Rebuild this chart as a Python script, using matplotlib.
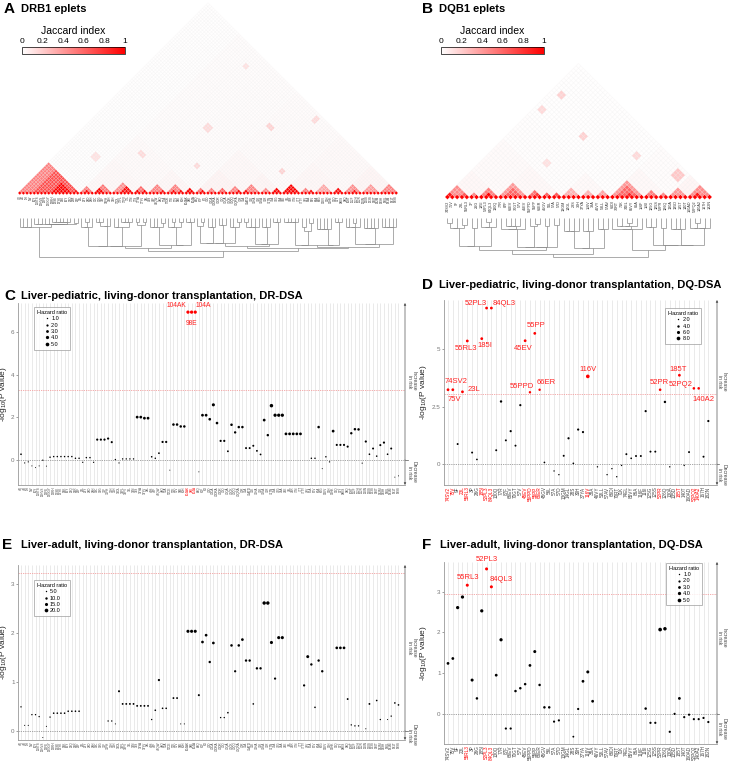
import numpy as np
import matplotlib
matplotlib.use("Agg")
import matplotlib.pyplot as plt
from matplotlib.colors import LinearSegmentedColormap
from matplotlib.collections import LineCollection, PolyCollection
from matplotlib.lines import Line2D

plt.rcParams["font.family"] = ["Liberation Sans", "DejaVu Sans"]
plt.rcParams["mathtext.fontset"] = "custom"
plt.rcParams["mathtext.rm"] = "Liberation Sans"
nan = np.nan

# ---------------- data ----------------
DRB1_EPLETS = [
    "4Q", "4R", "9H", "9W", "10Y", "11STS", "12HVS", "13FE", "13GGY", "13RH",
    "13SE", "13YK", "14K", "16Y", "25Q", "25R", "26F", "26L", "26Y", "28D",
    "28H", "30C", "30G", "31F", "31FH", "32H", "33H", "37DL", "37FL", "37FV",
    "37L", "37N", "37S", "37YA", "37YV", "38L", "40S", "47F", "47QW", "48Q",
    "57A", "57DE", "57E", "57V", "58E", "60H", "104AK", "98E", "104A", "64Q",
    "67F", "67I", "70D", "70DA", "70DRA", "70DR", "70Q", "70QA", "70QK", "70QQ",
    "70QRA", "70R", "71A", "71ATD", "71E", "71HA", "71K", "71KA", "71R", "71TN",
    "73A", "73G", "74A", "74E", "74L", "74R", "77N", "77T", "77TY", "78V",
    "85A", "85V", "86A", "86G", "96EV", "96H", "96HK", "96Q", "96Y", "98ES",
    "98Q", "108T", "112F", "112H", "112R", "120N", "120S", "133S", "140T", "142M",
    "149H", "180L", "181M", "181T", "189S",
]
DQB1_EPLETS = [
    "74SV2", "75V", "9F", "23L", "55RL3", "3P", "26G", "185I", "52PL3", "84QL3",
    "130Q", "77R", "87F", "66EV", "70GT", "57V", "45EV", "55PPD", "55PP", "66ER",
    "45GV", "56L", "57A", "57D", "13GM", "14GL", "28S", "30H", "37YA", "116V",
    "38A", "46VY", "53LL", "57AV", "66DI", "70RT", "71K", "74EL", "85VY", "86A",
    "116F", "116I", "125G", "125S", "52PR", "126Q", "130A", "135D", "185T", "140T",
    "160AD", "52PQ2", "140A2", "167H", "182N",
]

# -log10(P) and hazard ratios, liver pediatric / adult
DR_PED_LOGP = [
    0.25, -0.16, -0.11, -0.30, -0.38, -0.30, -0.03, -0.31, 0.11, 0.14,
    0.14, 0.14, 0.14, 0.14, 0.14, 0.06, 0.06, -0.13, 0.09, 0.09,
    -0.13, 0.94, 0.94, 0.94, 0.99, 0.82, 0.00, -0.16, 0.03, 0.03,
    0.03, 0.03, 2.00, 2.00, 1.95, 1.95, 0.13, 0.06, 0.30, 0.83,
    0.83, -0.50, 1.65, 1.65, 1.56, 1.56, 6.95, 6.95, 6.95, -0.58,
    2.09, 2.09, 1.90, 2.58, 1.72, 0.88, 0.88, 0.39, 1.64, 1.28,
    1.53, 1.53, 0.54, 0.54, 0.65, 0.41, 0.24, 1.86, 1.15, 2.54,
    2.09, 2.09, 2.09, 1.21, 1.21, 1.21, 1.21, 1.21, nan, nan,
    0.06, 0.06, 1.53, -0.43, 0.13, -0.11, 1.34, 0.69, 0.69, 0.69,
    0.61, 1.24, 1.43, 1.42, -0.17, 0.85, 0.25, 0.52, 0.16, 0.68,
    0.80, 0.25, 0.52, -0.83, -0.77,
]
DR_PED_HR = [
    1.3, 0.8, 0.85, 0.7, 0.6, 0.7, 0.95, 0.7, 1.1, 1.1,
    1.1, 1.1, 1.1, 1.1, 1.1, 1.1, 1.1, 0.9, 1.1, 1.1,
    0.9, 2.0, 2.0, 2.0, 2.0, 1.9, 1.0, 0.85, 1.0, 1.0,
    1.0, 1.0, 3.0, 3.0, 3.0, 3.0, 1.2, 1.1, 1.4, 2.0,
    2.0, 0.5, 2.6, 2.6, 2.5, 2.5, 4.0, 4.0, 4.0, 0.4,
    3.0, 3.0, 2.8, 3.6, 2.7, 2.0, 2.0, 1.5, 2.6, 2.3,
    2.5, 2.5, 1.7, 1.7, 1.7, 1.5, 1.4, 3.0, 2.4, 4.5,
    4.0, 4.0, 4.0, 3.0, 3.0, 3.0, 3.0, 3.0, nan, nan,
    1.1, 1.1, 2.6, 0.6, 1.1, 0.9, 3.0, 1.9, 1.9, 1.9,
    1.9, 2.3, 2.5, 2.5, 0.8, 2.0, 1.3, 1.7, 1.2, 1.8,
    2.0, 1.3, 1.7, 0.4, 0.45,
]
DQ_PED_LOGP = [
    3.23, 3.23, 0.87, 3.14, 5.35, 0.50, 0.20, 5.45, 6.78, 6.78,
    0.60, 2.72, 1.03, 1.43, 0.80, 2.56, 5.36, 3.12, 5.68, 3.23,
    0.07, nan, -0.30, -0.46, 0.36, 1.12, 0.03, 1.50, 1.39, 3.81,
    nan, -0.12, nan, -0.46, -0.20, -0.55, -0.06, 0.43, 0.25, 0.35,
    0.35, 2.30, 0.54, 0.54, 3.23, 2.70, -0.12, nan, 3.86, -0.06,
    0.52, 3.29, 3.29, 0.32, 1.87,
]
DQ_PED_HR = [
    5.0, 5.0, 3.0, 5.0, 5.0, 3.0, 2.5, 5.0, 5.0, 5.0,
    3.0, 4.0, 3.0, 3.5, 3.0, 3.5, 5.0, 4.0, 5.0, 4.0,
    2.5, nan, 2.0, 2.0, 3.0, 3.5, 2.5, 3.5, 3.5, 8.0,
    nan, 2.0, nan, 2.0, 2.0, 2.0, 2.0, 3.0, 2.5, 3.0,
    3.0, 3.5, 3.0, 3.0, 4.5, 4.0, 2.0, nan, 5.0, 2.0,
    3.0, 4.5, 4.5, 3.0, 3.5,
]
DR_ADULT_LOGP = [
    0.49, 0.11, 0.11, 0.33, 0.33, 0.29, -0.14, 0.09, 0.28, 0.36,
    0.36, 0.36, 0.36, 0.40, 0.40, 0.40, 0.40, nan, nan, nan,
    nan, nan, nan, nan, 0.20, 0.20, 0.14, 0.81, 0.55, 0.55,
    0.55, 0.55, 0.51, 0.51, 0.51, 0.51, 0.23, 0.42, 1.04, 0.46,
    0.46, nan, 0.67, 0.67, 0.14, 0.14, 2.04, 2.04, 2.04, 0.73,
    1.82, 1.96, 1.41, 1.80, nan, 0.27, 0.27, 0.37, 1.75, 1.22,
    1.75, 1.87, 1.44, 1.44, 0.55, 1.28, 1.28, 2.62, 2.62, 1.81,
    1.07, 1.91, 1.91, nan, nan, nan, nan, nan, 0.93, 1.52,
    1.36, 0.48, 1.44, 1.22, nan, nan, nan, 1.70, 1.70, 1.70,
    0.65, 0.12, 0.10, 0.10, nan, 0.04, 0.55, nan, 0.62, 0.23,
    nan, 0.23, 0.30, 0.57, 0.53,
]
DR_ADULT_HR = [
    5, 4, 4, 5, 5, 5, 3, 4, 5, 6,
    6, 6, 6, 6, 6, 6, 6, nan, nan, nan,
    nan, nan, nan, nan, 5, 5, 4, 8, 7, 7,
    7, 7, 7, 7, 7, 7, 5, 6, 9, 6,
    6, nan, 7, 7, 4, 4, 15, 15, 15, 8,
    12, 12, 10, 12, nan, 5, 5, 6, 11, 9,
    11, 12, 10, 10, 6, 10, 10, 18, 18, 15,
    9, 15, 15, nan, nan, nan, nan, nan, 9, 14,
    10, 6, 10, 10, nan, nan, nan, 12, 12, 12,
    7, 5, 5, 5, nan, 4, 7, nan, 6, 5,
    nan, 4, 5, 6, 6,
]
DQ_ADULT_LOGP = [
    1.24, 1.36, 2.61, 2.87, 3.16, 0.83, 0.38, 2.53, 3.56, 3.12,
    0.95, 1.82, -0.36, -0.36, 0.56, 0.63, 0.73, 1.19, 1.53, 0.71,
    0.16, 0.16, -0.19, -0.16, nan, nan, -0.56, 0.12, 0.80, 1.03,
    0.31, nan, nan, nan, nan, nan, nan, nan, nan, nan,
    nan, 0.13, -0.22, -0.22, 2.07, 2.09, -0.44, 0.00, 0.38, -0.08,
    -0.02, -0.13, -0.13, -0.10, -0.20,
]
DQ_ADULT_HR = [
    3.0, 3.0, 4.0, 4.0, 3.5, 3.5, 2.5, 4.0, 3.5, 3.5,
    3.0, 4.0, 2.0, 2.0, 2.5, 2.5, 2.5, 3.0, 3.5, 2.5,
    2.5, 2.5, 2.0, 2.0, nan, nan, 1.5, 2.0, 3.0, 3.5,
    3.0, nan, nan, nan, nan, nan, nan, nan, nan, nan,
    nan, 2.5, 2.0, 2.0, 5.0, 4.5, 2.0, 2.0, 3.0, 2.0,
    2.0, 2.0, 2.0, 2.0, 2.0,
]

DR_PED_SIG = ["104AK", "98E", "104A"]
DQ_PED_SIG = ["74SV2", "75V", "23L", "55RL3", "185I", "52PL3", "84QL3", "45EV",
              "55PPD", "55PP", "66ER", "116V", "52PR", "185T", "52PQ2", "140A2"]
DR_ADULT_SIG = []
DQ_ADULT_SIG = ["55RL3", "52PL3", "84QL3"]

# co-occurrence structure for the Jaccard triangles: (first, last, jaccard)
DRB1_CLUSTERS = [
    (0, 16, 0.50), (4, 16, 0.70), (9, 14, 1.00), (15, 16, 0.90),
    (17, 20, 0.50), (18, 19, 0.95), (21, 25, 0.55), (21, 23, 1.00),
    (26, 31, 0.45), (28, 31, 0.95), (32, 35, 0.60), (32, 33, 1.00), (34, 35, 1.00),
    (36, 40, 0.50), (39, 40, 0.90), (41, 45, 0.50), (42, 43, 0.95), (44, 45, 0.95),
    (46, 48, 1.00), (49, 51, 0.55), (50, 51, 0.95), (52, 54, 0.50), (55, 57, 0.60),
    (58, 61, 0.50), (60, 61, 0.95), (62, 66, 0.50), (62, 63, 0.95), (67, 69, 0.45),
    (70, 72, 1.00), (73, 77, 1.00), (78, 80, 0.50), (80, 81, 0.90), (82, 86, 0.35),
    (87, 89, 0.95), (90, 94, 0.45), (92, 93, 0.90), (95, 99, 0.40), (100, 104, 0.50),
]
DRB1_GROUPS = [
    (17, 104, 0.012), (17, 48, 0.02), (49, 104, 0.018), (17, 35, 0.03), (36, 48, 0.035),
    (49, 72, 0.03), (73, 104, 0.025), (49, 61, 0.045), (62, 72, 0.04), (73, 89, 0.035),
    (90, 104, 0.04), (0, 16, 0.05),
]
DRB1_PATCHES = [
    (69, 71, 33, 35, 0.15), (87, 88, 50, 52, 0.18), (44, 45, 22, 24, 0.15),
    (97, 98, 27, 28, 0.12), (56, 57, 41, 42, 0.15), (101, 103, 61, 62, 0.15),
    (30, 32, 10, 12, 0.12), (78, 79, 66, 67, 0.18),
]
DRB1_BACKGROUND = 0.005

DQB1_CLUSTERS = [
    (0, 4, 0.45), (0, 1, 0.90), (3, 4, 0.65), (5, 6, 0.45), (7, 10, 0.50), (8, 9, 1.00),
    (11, 16, 0.40), (12, 15, 0.60), (17, 19, 0.55), (18, 19, 0.75), (20, 21, 0.60),
    (22, 23, 0.65), (24, 27, 0.30), (28, 30, 0.30), (31, 33, 0.35), (34, 40, 0.40),
    (35, 39, 0.60), (37, 38, 0.85), (41, 43, 0.50), (44, 45, 0.45), (46, 49, 0.40),
    (50, 54, 0.45), (51, 52, 0.90),
]
DQB1_GROUPS = [
    (0, 33, 0.01), (34, 54, 0.015), (0, 23, 0.02), (24, 33, 0.025), (0, 10, 0.035),
    (11, 23, 0.03), (34, 45, 0.03), (46, 54, 0.04),
]
DQB1_PATCHES = [
    (37, 38, 1, 2, 0.15), (44, 45, 2, 3, 0.18), (40, 41, 15, 16, 0.18),
    (51, 53, 42, 44, 0.22), (27, 28, 13, 14, 0.12), (47, 48, 30, 31, 0.15),
]
DQB1_BACKGROUND = 0.004

JACCARD_TICKS = [0, 0.2, 0.4, 0.6, 0.8, 1]

# ---------------- helpers ----------------
W, H = 729, 771
fig = plt.figure(figsize=(W / 100, H / 100), dpi=100)
JAC_CMAP = LinearSegmentedColormap.from_list("jac", ["#ffffff", "#ff0000"])


def px_axes(x0, y0, x1, y1):
    return fig.add_axes([x0 / W, 1 - y1 / H, (x1 - x0) / W, (y1 - y0) / H])


def jaccard_matrix(n, clusters, groups, patches, background):
    J = np.full((n, n), background)
    for a, b, v in groups + clusters:
        J[a:b + 1, a:b + 1] = np.maximum(J[a:b + 1, a:b + 1], v)
    for a, b, c, d, v in patches:
        J[a:b + 1, c:d + 1] = np.maximum(J[a:b + 1, c:d + 1], v)
        J[c:d + 1, a:b + 1] = np.maximum(J[c:d + 1, a:b + 1], v)
    np.fill_diagonal(J, 1.0)
    return J


def merge_tree(J):
    # average linkage, only neighbours may merge, so leaf order is kept
    nodes = [[i, i, i + 0.5, 0.0, True] for i in range(len(J))]
    merges = []
    while len(nodes) > 1:
        d = [-np.log(max(J[a[0]:a[1] + 1, b[0]:b[1] + 1].mean(), 1e-4))
             for a, b in zip(nodes[:-1], nodes[1:])]
        k = int(np.argmin(d))
        a, b = nodes[k], nodes[k + 1]
        h = max(d[k], a[3], b[3])
        merges.append((a[2], a[3], a[4], b[2], b[3], b[4], h))
        nodes[k:k + 2] = [[a[0], b[1], (a[2] + b[2]) / 2, h, False]]
    return merges


def triangle(ax, J, names, label_fs, dend_top, dend_bot):
    n = len(J)
    verts, vals = [], []
    for i in range(n):
        for j in range(i + 1):
            corners = [(i, j), (i + 1, j), (i + 1, j + 1), (i, j + 1)]
            verts.append([((a + b) / 2, (a - b) / 2) for a, b in corners])
            vals.append(J[i, j])
    ax.add_collection(PolyCollection(verts, facecolors=JAC_CMAP(np.array(vals)),
                                     edgecolors="#eeeeee", linewidths=0.1))
    for i, name in enumerate(names):
        ax.text(i + 0.5, -0.7, name, rotation=90, ha="center", va="top",
                fontsize=label_fs, color="#333333")
    merges = merge_tree(J)
    hmax = merges[-1][6]
    span = dend_top - dend_bot
    stem = 0.1 * span

    def yof(h, leaf):
        return dend_top if leaf else dend_top - stem - h / hmax * (span - stem)

    segs = []
    for xa, ha, la, xb, hb, lb, h in merges:
        yh = yof(h, False)
        segs += [[(xa, yof(ha, la)), (xa, yh)], [(xb, yof(hb, lb)), (xb, yh)],
                 [(xa, yh), (xb, yh)]]
    ax.add_collection(LineCollection(segs, colors="#8a8a8a", linewidths=0.5))
    ax.axis("off")


def colorbar(x0, x1):
    cax = px_axes(x0, 47, x1, 54)
    sm = plt.cm.ScalarMappable(cmap=JAC_CMAP, norm=plt.Normalize(0, 1))
    cb = fig.colorbar(sm, cax=cax, orientation="horizontal", ticks=JACCARD_TICKS)
    cb.ax.set_xticklabels([f"{t:g}" for t in JACCARD_TICKS])
    cax.xaxis.set_ticks_position("top")
    cax.tick_params(length=0, labelsize=6, pad=1.5)
    cb.outline.set_linewidth(0.5)
    fig.text((x0 + x1) / 2 / W, 1 - 31 / H, "Jaccard index", ha="center",
             va="center", fontsize=7.5)


def title(x_letter, x_text, y, letter, text):
    fig.text(x_letter / W, 1 - y / H, letter, ha="left", va="center",
             fontsize=11, fontweight="bold")
    fig.text(x_text / W, 1 - y / H, text, ha="left", va="center",
             fontsize=8.0, fontweight="bold")


def size_of(hr, breaks, s_lo=1.0, s_hi=7.0):
    hr = np.asarray(hr, float)
    s = s_lo + (hr - breaks[0]) / (breaks[-1] - breaks[0]) * (s_hi - s_lo)
    return np.clip(s, 0.5, s_hi * 1.15)


def manhattan(ax, names, logp, hr, sig, thresh, ylim, yticks, breaks, label_fs,
              notes, note_fs, legend_xy, ylabel_x):
    n = len(names)
    x = np.arange(n)
    logp = np.asarray(logp, float)
    red = np.array([nm in sig for nm in names])
    ax.vlines(x, ylim[0], ylim[1], color="#e2e2e2", lw=0.5, zorder=0)
    ax.axhline(0, color="#999999", ls=(0, (1.5, 1.2)), lw=0.6, zorder=1)
    ax.axhline(thresh, color="#f2a0a0", ls=(0, (1.5, 1.2)), lw=0.6, zorder=1)
    ok = ~np.isnan(logp)
    cols = np.where(red, "#ff0000", "#000000")
    ax.scatter(x[ok], logp[ok], s=size_of(hr, breaks)[ok], c=cols[ok],
               linewidths=0, zorder=3)
    for nm, (dx, dy) in notes.items():
        i = names.index(nm)
        ax.annotate(nm, (i, logp[i]), xytext=(dx * 0.72, dy * 0.72),
                    textcoords="offset points", ha="center", va="center",
                    fontsize=note_fs, color="#ff2020", annotation_clip=False)
    ax.set_xlim(-0.83, n + 0.8)
    ax.set_ylim(*ylim)
    ax.set_xticks(x)
    ax.set_xticklabels(names, rotation=90, fontsize=label_fs)
    for lab, r in zip(ax.get_xticklabels(), red):
        lab.set_color("#ff0000" if r else "#444444")
    ax.set_yticks(yticks)
    ax.set_yticklabels([f"{t:g}" for t in yticks])
    ax.tick_params(axis="x", length=0, pad=1)
    ax.tick_params(axis="y", length=1.5, width=0.5, labelsize=4.5, pad=1,
                   colors="#777777")
    for s in ("top", "right"):
        ax.spines[s].set_visible(False)
    for s in ("left", "bottom"):
        ax.spines[s].set_color("#999999")
        ax.spines[s].set_linewidth(0.6)
    ax.set_ylabel(r"-log$_{10}$(P value)", fontsize=6, color="#222222")
    ax.yaxis.set_label_coords(ylabel_x, 0.5)
    # risk arrows on the right edge
    tr = ax.get_yaxis_transform()
    for end in ylim:
        ax.annotate("", xy=(1, end), xytext=(1, 0), xycoords=tr, textcoords=tr,
                    arrowprops=dict(arrowstyle="-|>", color="#555555", lw=0.5,
                                    mutation_scale=3, shrinkA=0, shrinkB=0),
                    annotation_clip=False)
    ax.plot([1, 1.008], [0, 0], transform=tr, color="#555555", lw=0.5,
            clip_on=False)
    ax.text(1.018, ylim[1] / 2, "Increase\nin risk", transform=tr, rotation=270,
            ha="center", va="center", fontsize=3.6, color="#444444", linespacing=0.9)
    ax.text(1.018, ylim[0] / 2, "Decrease\nin risk", transform=tr, rotation=270,
            ha="center", va="center", fontsize=3.6, color="#444444", linespacing=0.9)
    handles = [Line2D([], [], ls="", marker="o", color="black",
                      markersize=np.sqrt(size_of(b, breaks)), markeredgewidth=0)
               for b in breaks]
    leg = ax.legend(handles, [f"{b:.1f}" for b in breaks], title="Hazard ratio",
                    loc="upper left", bbox_to_anchor=legend_xy, fontsize=4,
                    title_fontsize=4, frameon=True, fancybox=False,
                    borderpad=0.5, handletextpad=0.2, labelspacing=0.25,
                    handlelength=1.0, borderaxespad=0)
    leg.get_frame().set_edgecolor("#999999")
    leg.get_frame().set_linewidth(0.6)


# ---------------- A / B: Jaccard triangles ----------------
title(4, 21, 9, "A", "DRB1 eplets")
title(422, 439, 9, "B", "DQB1 eplets")

J_dr = jaccard_matrix(len(DRB1_EPLETS), DRB1_CLUSTERS, DRB1_GROUPS,
                      DRB1_PATCHES, DRB1_BACKGROUND)
axA = px_axes(18, 0, 398, 262)
triangle(axA, J_dr, DRB1_EPLETS, 2.1, -6.9, -17.7)
axA.set_xlim(0, 105)
axA.set_ylim(-19.06, 53.3)

J_dq = jaccard_matrix(len(DQB1_EPLETS), DQB1_CLUSTERS, DQB1_GROUPS,
                      DQB1_PATCHES, DQB1_BACKGROUND)
axB = px_axes(445, 0, 712, 262)
triangle(axB, J_dq, DQB1_EPLETS, 2.7, -4.33, -12.36)
axB.set_xlim(0, 55)
axB.set_ylim(-13.39, 40.58)

colorbar(22, 125)
colorbar(441, 544)

# ---------------- C - F: association plots ----------------
title(4, 21, 296, "C", "Liver-pediatric, living-donor transplantation, DR-DSA")
title(422, 439, 285, "D", "Liver-pediatric, living-donor transplantation, DQ-DSA")
title(2, 21, 545, "E", "Liver-adult, living-donor transplantation, DR-DSA")
title(422, 440, 545, "F", "Liver-adult, living-donor transplantation, DQ-DSA")

axC = px_axes(18, 303, 405, 485)
manhattan(axC, DRB1_EPLETS, DR_PED_LOGP, DR_PED_HR, DR_PED_SIG, 3.3,
          (-1.2, 7.38), [0, 2, 4, 6], [1, 2, 3, 4, 5], 2.2,
          {"104AK": (-12, 7), "104A": (8, 7), "98E": (0, -11)}, 4.8,
          (0.041, 0.978), -0.022)

axD = px_axes(444, 300, 717, 485)
manhattan(axD, DQB1_EPLETS, DQ_PED_LOGP, DQ_PED_HR, DQ_PED_SIG, 3.03,
          (-0.91, 7.13), [0, 2.5, 5], [2, 4, 6, 8], 3.3,
          {"74SV2": (8, 8), "75V": (2, -10), "23L": (11, 2), "55RL3": (-1, -8),
           "185I": (3, -7), "52PL3": (-11, 5), "84QL3": (13, 5), "45EV": (-2, -8),
           "55PP": (1, 8), "55PPD": (-8, 6), "66ER": (7, 7), "116V": (0, 7),
           "52PR": (-1, 7), "185T": (-1, 6), "52PQ2": (-13, 4), "140A2": (5, -11)},
          5.5, (0.81, 0.957), -0.054)

axE = px_axes(18, 565, 405, 740)
manhattan(axE, DRB1_EPLETS, DR_ADULT_LOGP, DR_ADULT_HR, DR_ADULT_SIG, 3.24,
          (-0.19, 3.40), [0, 1, 2, 3], [5, 10, 15, 20], 2.2, {}, 4.8,
          (0.041, 0.914), -0.022)

axF = px_axes(444, 562, 717, 744)
manhattan(axF, DQB1_EPLETS, DQ_ADULT_LOGP, DQ_ADULT_HR, DQ_ADULT_SIG, 2.94,
          (-0.74, 3.73), [0, 1, 2, 3], [1, 2, 3, 4, 5], 3.3,
          {"55RL3": (1, 8), "52PL3": (0, 9), "84QL3": (10, 7)}, 5.5,
          (0.813, 0.995), -0.054)

fig.savefig("out.png", dpi=100)
